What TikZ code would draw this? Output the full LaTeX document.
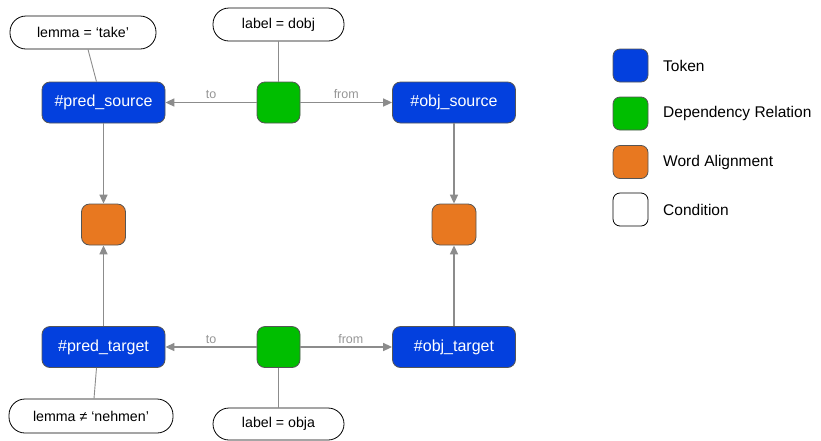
\documentclass[tikz,border=0pt]{standalone}
\usepackage{fontspec}
\setmainfont{Liberation Sans}
\usetikzlibrary{arrows.meta}
\definecolor{tokblue}{RGB}{3,64,222}
\definecolor{relgreen}{RGB}{0,190,0}
\definecolor{alnorange}{RGB}{232,120,32}
\definecolor{edgegray}{RGB}{140,140,140}
\definecolor{bordergray}{RGB}{85,85,85}
\definecolor{labelgray}{RGB}{150,150,150}
\tikzset{
  tokbox/.style={draw=bordergray, line width=0.8pt, fill=tokblue, rounded corners=8pt, minimum width=123pt, minimum height=41pt, inner sep=0pt, text=white, font=\fontsize{16}{18}\selectfont},
  relbox/.style={draw=bordergray, line width=0.8pt, fill=relgreen, rounded corners=8pt, minimum width=43pt, minimum height=41pt, inner sep=0pt},
  alnbox/.style={draw=bordergray, line width=0.8pt, fill=alnorange, rounded corners=8pt, minimum width=44pt, minimum height=41pt, inner sep=0pt},
  condbox/.style={draw=black, line width=0.8pt, fill=white, rounded corners=16pt, minimum height=33pt, inner sep=0pt, font=\fontsize{14.2}{16}\selectfont},
  legbox/.style={draw=bordergray, line width=0.8pt, rounded corners=7pt, minimum width=35pt, minimum height=33pt, inner sep=0pt},
  legtext/.style={anchor=west, inner sep=0pt, font=\fontsize{15.5}{18}\selectfont},
  arr/.style={draw=edgegray, line width=1.6pt, -{Triangle[length=9pt,width=8pt]}},
  condline/.style={draw=edgegray, line width=0.9pt},
  elabel/.style={text=labelgray, font=\fontsize{12.5}{14}\selectfont, inner sep=0pt}
}
\begin{document}
\begin{tikzpicture}[x=1pt,y=-1pt]
\useasboundingbox (0,0) rectangle (821,440);
% tokens
\node[tokbox] (ps) at (103.5,102.5) {\#pred\_source};
\node[tokbox] (os) at (454,102.5) {\#obj\_source};
\node[tokbox] (pt) at (103.5,347) {\#pred\_target};
\node[tokbox] (ot) at (454,347) {\#obj\_target};
% relations
\node[relbox] (rs) at (278.5,102.5) {};
\node[relbox] (rt) at (278.5,347) {};
% alignments
\node[alnbox] (al) at (103.5,224.5) {};
\node[alnbox] (ar) at (454,224.5) {};
% conditions
\node[condbox, minimum width=146pt] (c1) at (83,32.5) {lemma = ‘take’};
\node[condbox, minimum width=131pt] (c2) at (278.5,24.5) {label = dobj};
\node[condbox, minimum width=164pt, minimum height=34pt] (c3) at (91,416) {lemma ≠ ‘nehmen’};
\node[condbox, minimum width=131pt, minimum height=32pt] (c4) at (278.5,424) {label = obja};
% condition lines
\draw[condline] ([xshift=5pt]c1.south) -- ([xshift=-7pt]ps.north);
\draw[condline] (c2) -- (rs);
\draw[condline] (c4) -- (rt);
\draw[condline] ([xshift=-7pt]pt.south) -- ([xshift=3pt]c3.north);
% arrows
\draw[arr] (rs) -- node[elabel, above=3pt, pos=0.5] (l1) {to} (ps);
\draw[arr] (rs) -- node[elabel, above=3pt, pos=0.5] (l2) {from} (os);
\draw[arr] (rt) -- node[elabel, above=3pt, pos=0.5] (l3) {to} (pt);
\draw[arr] (rt) -- node[elabel, above=3pt, pos=0.55] (l4) {from} (ot);
\draw[arr] (ps) -- (al);
\draw[arr] (pt) -- (al);
\draw[arr] (os) -- (ar);
\draw[arr] (ot) -- (ar);
% legend
\node[legbox, fill=tokblue] (k1) at (630.5,65.5) {};
\node[legbox, fill=relgreen] (k2) at (630.5,113.5) {};
\node[legbox, fill=alnorange] (k3) at (630.5,162) {};
\node[legbox, fill=white, draw=black] (k4) at (630.5,209.5) {};
\node[legtext] (t1) at (663,65.5) {Token};
\node[legtext] (t2) at (663,113.5) {Dependency Relation};
\node[legtext] (t3) at (663,162) {Word Alignment};
\node[legtext] (t4) at (663,209.5) {Condition};
\end{tikzpicture}
\end{document}
